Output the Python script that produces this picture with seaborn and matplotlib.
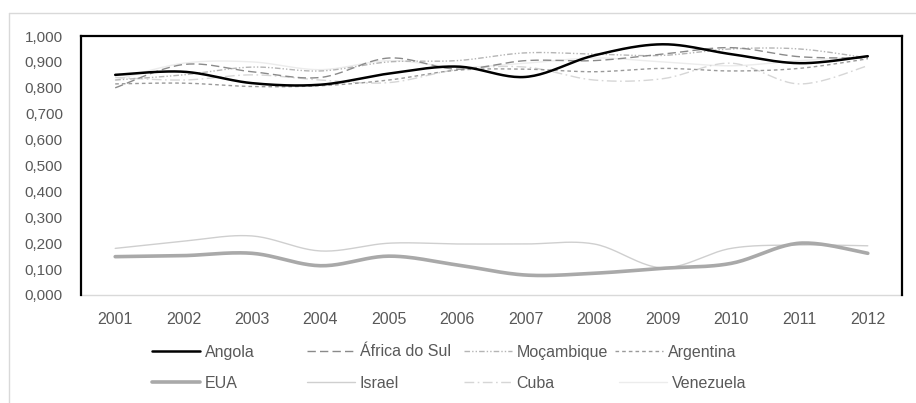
import numpy as np
import pandas as pd
import matplotlib
matplotlib.use("Agg")
import matplotlib.pyplot as plt
from matplotlib.lines import Line2D
import seaborn as sns

years = ["2001", "2002", "2003", "2004", "2005", "2006",
         "2007", "2008", "2009", "2010", "2011", "2012"]

angola = [0.850, 0.862, 0.818, 0.812, 0.855, 0.882, 0.842, 0.925, 0.968, 0.930, 0.895, 0.922]
africa_do_sul = [0.800, 0.890, 0.862, 0.840, 0.915, 0.872, 0.905, 0.905, 0.930, 0.955, 0.920, 0.915]
mocambique = [0.830, 0.850, 0.880, 0.865, 0.900, 0.905, 0.935, 0.930, 0.925, 0.950, 0.950, 0.915]
argentina = [0.815, 0.818, 0.805, 0.808, 0.830, 0.868, 0.872, 0.862, 0.875, 0.865, 0.875, 0.912]
eua = [0.148, 0.152, 0.161, 0.113, 0.150, 0.116, 0.077, 0.084, 0.103, 0.122, 0.200, 0.161]
israel = [0.180, 0.208, 0.228, 0.170, 0.200, 0.197, 0.197, 0.197, 0.105, 0.180, 0.193, 0.190]
cuba = [0.840, 0.830, 0.850, 0.830, 0.820, 0.870, 0.880, 0.830, 0.835, 0.895, 0.815, 0.885]
venezuela = [0.830, 0.895, 0.900, 0.870, 0.905, 0.880, 0.895, 0.915, 0.900, 0.885, 0.905, 0.920]

y_ticks = [0.0, 0.1, 0.2, 0.3, 0.4, 0.5, 0.6, 0.7, 0.8, 0.9, 1.0]

# name, values, colour, width, dash pattern (None = solid)
series = [
    ("Angola", angola, "#000000", 1.8, None),
    ("África do Sul", africa_do_sul, "#8a8a8a", 1.0, (0, (6, 3))),
    ("Moçambique", mocambique, "#b5b5b5", 1.0, (0, (4, 1.5, 1, 1.5, 1, 1.5))),
    ("Argentina", argentina, "#9a9a9a", 1.0, (0, (2.6, 2.2))),
    ("EUA", eua, "#a9a9a9", 2.6, None),
    ("Israel", israel, "#cfcfcf", 1.0, None),
    ("Cuba", cuba, "#d6d6d6", 1.0, (0, (7, 2.5, 1.2, 2.5))),
    ("Venezuela", venezuela, "#ececec", 1.0, None),
]


def smooth(vals, steps=24):
    """Bezier smoothing (Catmull-Rom control points) through the given values."""
    p = np.column_stack([np.arange(len(vals), dtype=float), np.asarray(vals, float)])
    ext = np.vstack([p[0], p, p[-1]])
    xs, ys = [], []
    t = np.linspace(0, 1, steps, endpoint=False)[:, None]
    for i in range(len(p) - 1):
        p0, p3 = ext[i + 1], ext[i + 2]
        c1 = p0 + (ext[i + 2] - ext[i]) / 6.0
        c2 = p3 - (ext[i + 3] - ext[i + 1]) / 6.0
        b = ((1 - t) ** 3) * p0 + 3 * ((1 - t) ** 2) * t * c1 + 3 * (1 - t) * t ** 2 * c2 + t ** 3 * p3
        xs.append(b[:, 0]); ys.append(b[:, 1])
    xs.append([p[-1, 0]]); ys.append([p[-1, 1]])
    return np.concatenate(xs), np.concatenate(ys)


sns.set_theme(style="white")
plt.rcParams["font.family"] = ["Liberation Sans", "DejaVu Sans"]

W, H = 916, 403
fig = plt.figure(figsize=(W / 100, H / 100), dpi=100)
fig.patch.set_facecolor("white")

# outer chart border
fig.add_artist(Line2D([9 / W, 9 / W], [0, 1 - 13 / H], transform=fig.transFigure,
                      color="#d9d9d9", lw=1.0))
fig.add_artist(Line2D([9 / W, 1], [1 - 13 / H, 1 - 13 / H], transform=fig.transFigure,
                      color="#d9d9d9", lw=1.0))

left, right, top, bottom = 81, 902, 36, 295
ax = fig.add_axes([left / W, 1 - bottom / H, (right - left) / W, (bottom - top) / H])

handles = {}
for name, vals, color, lw, dash in reversed(series):
    sx, sy = smooth(vals)
    df = pd.DataFrame({"x": sx, "y": sy})
    kw = {} if dash is None else {"linestyle": dash}
    sns.lineplot(data=df, x="x", y="y", ax=ax, color=color, linewidth=lw,
                 estimator=None, sort=False, **kw)
    handles[name] = Line2D([], [], color=color, lw=lw, linestyle=dash if dash else "-")

ax.set_xlim(-0.5, len(years) - 0.5)
ax.set_ylim(0, 1.0)
ax.set_xlabel("")
ax.set_ylabel("")

ax.set_yticks(y_ticks)
ax.set_yticklabels([f"{v:.3f}".replace(".", ",") for v in y_ticks])
ax.set_xticks(range(len(years)))
ax.set_xticklabels(years)
ax.set_xticks(np.arange(-0.5, len(years), 1.0), minor=True)

ax.tick_params(axis="y", length=0, pad=13, labelsize=11, labelcolor="#595959")
ax.tick_params(axis="x", which="major", length=0, pad=12, labelsize=11.5, labelcolor="#595959")
ax.tick_params(axis="x", which="minor", length=4, width=1, color="#d9d9d9")

for side in ("left", "top", "right"):
    ax.spines[side].set_color("#000000")
    ax.spines[side].set_linewidth(1.6)
ax.spines["bottom"].set_color("#d9d9d9")
ax.spines["bottom"].set_linewidth(1.0)
ax.spines["bottom"].set_zorder(0)

# legend entries, one per slot, two rows
slots = [
    ("Angola", 152, 352), ("África do Sul", 307, 352), ("Moçambique", 464, 352), ("Argentina", 615, 352),
    ("EUA", 152, 383), ("Israel", 307, 383), ("Cuba", 464, 383), ("Venezuela", 619, 383),
]
for name, px, py in slots:
    fig.legend(handles=[handles[name]], labels=[name], loc="center left",
               bbox_to_anchor=(px / W, 1 - py / H), bbox_transform=fig.transFigure,
               frameon=False, borderpad=0, borderaxespad=0, handlelength=3.0,
               handletextpad=0.3, fontsize=11.5, labelcolor="#595959")

fig.savefig("out.png", dpi=100, facecolor="white")
